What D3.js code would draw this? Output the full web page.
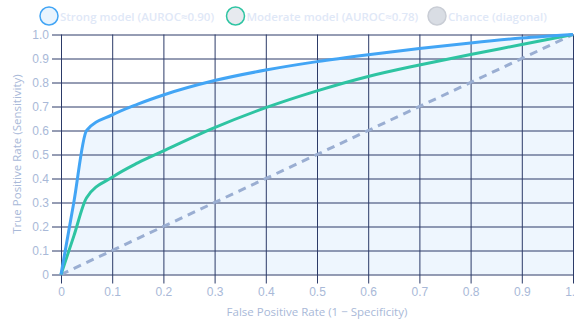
<!DOCTYPE html>
<html>
<head>
<meta charset="utf-8">
<script src="https://cdn.jsdelivr.net/npm/d3@7/dist/d3.min.js"></script>
<style>
  html, body { margin: 0; padding: 0; background: #ffffff; }
  svg { display: block; font-family: "Open Sans", "Noto Sans", sans-serif; }
</style>
</head>
<body>
<svg id="chart" width="574" height="324"></svg>
<script>
// ROC curve points: false positive rate vs true positive rate
const fpr = [0, 0.025, 0.05, 0.1, 0.15, 0.2, 0.3, 0.4, 0.5, 0.6, 0.7, 0.8, 0.9, 1.0];
const strongTpr = [0, 0.30, 0.60, 0.665, 0.71, 0.748, 0.808, 0.852, 0.887, 0.916, 0.942, 0.965, 0.985, 1.0];
const moderateTpr = [0, 0.16, 0.32, 0.405, 0.465, 0.515, 0.612, 0.695, 0.765, 0.825, 0.873, 0.917, 0.958, 1.0];
const chanceX = [0, 1];
const chanceY = [0, 1];

const xTicks = [0, 0.1, 0.2, 0.3, 0.4, 0.5, 0.6, 0.7, 0.8, 0.9, 1.0];
const yTicks = [0, 0.1, 0.2, 0.3, 0.4, 0.5, 0.6, 0.7, 0.8, 0.9, 1.0];

const legendItems = [
  { label: "Strong model (AUROC≈0.90)", fill: "#e9f4fe", stroke: "#42a5f5" },
  { label: "Moderate model (AUROC≈0.78)", fill: "#e7eaef", stroke: "#2ec4a2" },
  { label: "Chance (diagonal)", fill: "#d9dde4", stroke: "#c9cdd5" }
];

const svg = d3.select("#chart");
const x = d3.scaleLinear().domain([0, 1]).range([61, 573]);
const y = d3.scaleLinear().domain([0, 1]).range([274.5, 34.5]);

const fmt = d => d === 0 ? "0" : d3.format(".1f")(d);
const gridColor = "#2c3b68";
const labelColor = "#a9b9d8";

const strongPts = fpr.map((f, i) => [f, strongTpr[i]]);
const modPts = fpr.map((f, i) => [f, moderateTpr[i]]);

// shaded region under the strong model curve
svg.append("path")
  .datum(strongPts)
  .attr("fill", "#eef6fe")
  .attr("d", d3.area()
    .x(d => x(d[0]))
    .y0(y(0))
    .y1(d => y(d[1]))
    .curve(d3.curveMonotoneX));

// grid via axes
const xAxis = svg.append("g")
  .attr("transform", `translate(0,${y(0)})`)
  .call(d3.axisBottom(x).tickValues(xTicks).tickFormat(fmt)
    .tickSizeOuter(0).tickPadding(7));
xAxis.select(".domain").remove();
xAxis.selectAll(".tick line")
  .attr("y2", -(y(0) - y(1)))
  .attr("y1", 9)
  .attr("stroke", gridColor);
xAxis.selectAll(".tick text")
  .attr("fill", labelColor).attr("font-size", 12);

const yAxis = svg.append("g")
  .attr("transform", `translate(${x(0)},0)`)
  .call(d3.axisLeft(y).tickValues(yTicks).tickFormat(fmt)
    .tickSizeOuter(0).tickPadding(6));
yAxis.select(".domain").remove();
yAxis.selectAll(".tick line")
  .attr("x1", -9)
  .attr("x2", x(1) - x(0))
  .attr("stroke", gridColor);
yAxis.selectAll(".tick text")
  .attr("fill", labelColor).attr("font-size", 12);

// curves
const line = d3.line().x(d => x(d[0])).y(d => y(d[1]));

svg.append("path")
  .datum(chanceX.map((v, i) => [v, chanceY[i]]))
  .attr("fill", "none")
  .attr("stroke", "#9aaed2")
  .attr("stroke-width", 3)
  .attr("stroke-dasharray", "8,6")
  .attr("d", line);

svg.append("path")
  .datum(modPts)
  .attr("fill", "none")
  .attr("stroke", "#2ec4a2")
  .attr("stroke-width", 3)
  .attr("stroke-linejoin", "round")
  .attr("d", line.curve(d3.curveMonotoneX));

svg.append("path")
  .datum(strongPts)
  .attr("fill", "none")
  .attr("stroke", "#42a5f5")
  .attr("stroke-width", 3)
  .attr("stroke-linejoin", "round")
  .attr("d", line.curve(d3.curveMonotoneX));

// axis titles
svg.append("text")
  .attr("x", 317).attr("y", 316)
  .attr("text-anchor", "middle")
  .attr("fill", labelColor).attr("font-size", 11.5)
  .text("False Positive Rate (1 − Specificity)");

svg.append("text")
  .attr("transform", "translate(21,154) rotate(-90)")
  .attr("text-anchor", "middle")
  .attr("fill", labelColor).attr("font-size", 11.5)
  .text("True Positive Rate (Sensitivity)");

// legend
const legendX = [49, 235.5, 437];
const legend = svg.append("g");
legendItems.forEach((it, i) => {
  const g = legend.append("g").attr("transform", `translate(${legendX[i]},16)`);
  g.append("circle").attr("r", 9)
    .attr("fill", it.fill).attr("stroke", it.stroke).attr("stroke-width", 1.5);
  g.append("text").attr("x", 11).attr("y", 4.5)
    .attr("fill", "#dfe8f7").attr("font-size", 11.5).attr("font-weight", 600)
    .text(it.label);
});
</script>
</body>
</html>
